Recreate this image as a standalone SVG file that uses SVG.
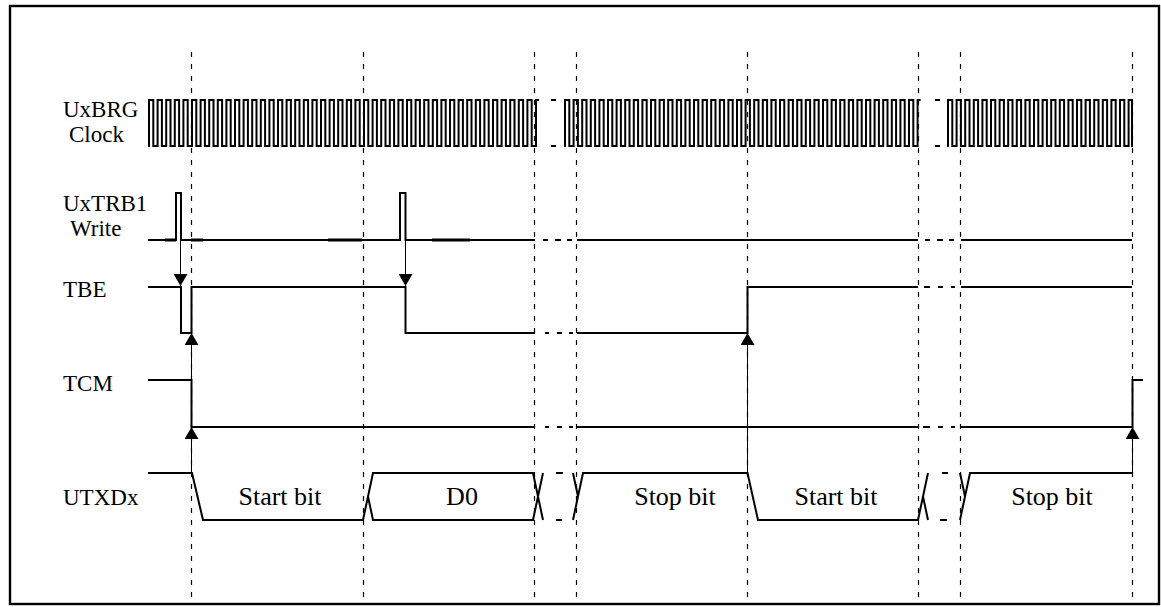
<svg xmlns="http://www.w3.org/2000/svg" width="1161" height="607" viewBox="0 0 1161 607">
<style>
.w{fill:none;stroke:#000;stroke-width:2;stroke-linejoin:miter;stroke-linecap:butt}
.ck{fill:none;stroke:#000;stroke-width:2;stroke-linejoin:miter;stroke-linecap:square}
.wt{fill:none;stroke:#000;stroke-width:3.2}
.t{fill:none;stroke:#000;stroke-width:1}
.d{fill:none;stroke:#000;stroke-width:1.2;stroke-dasharray:5 7}
.lbl{font-family:"Liberation Serif","Times New Roman",serif;font-size:23px;fill:#000}
.in{font-family:"Liberation Serif","Times New Roman",serif;font-size:26px;fill:#000;text-anchor:middle}
</style>
<defs>
<marker id="ah" viewBox="0 0 12 14" refX="12" refY="7" markerWidth="12" markerHeight="14" markerUnits="userSpaceOnUse" orient="auto"><path d="M0,0 L12,7 L0,14 z" fill="#000"/></marker>
<path id="c5" class="ck" d="M0,0v-46h4.3v46h4.3v-46h4.3v46h4.3v-46h4.3v46h4.3v-46h4.3v46h4.3v-46h4.3v46h4.3"/>
</defs>
<rect x="10" y="6" width="1149" height="598" fill="#fff" stroke="#000" stroke-width="2.4"/>
<g id="grid">
<path class="d" d="M191.5,52V600M363.5,52V600M534.5,52V600M576.5,52V600M747.5,52V600M918.5,52V600M960.5,52V600M1132.5,52V600"/>
</g>
<g id="clock">
<text class="lbl" x="63" y="117">UxBRG</text>
<text class="lbl" x="69" y="142">Clock</text>
<use href="#c5" x="149" y="146"/>
<use href="#c5" x="192" y="146"/>
<use href="#c5" x="235" y="146"/>
<use href="#c5" x="278" y="146"/>
<use href="#c5" x="321" y="146"/>
<use href="#c5" x="364" y="146"/>
<use href="#c5" x="407" y="146"/>
<use href="#c5" x="450" y="146"/>
<use href="#c5" x="493" y="146"/>
<path class="ck" d="M536,146v-46h2"/>
<use href="#c5" x="565" y="146"/>
<use href="#c5" x="608" y="146"/>
<use href="#c5" x="651" y="146"/>
<use href="#c5" x="694" y="146"/>
<use href="#c5" x="737" y="146"/>
<use href="#c5" x="780" y="146"/>
<use href="#c5" x="823" y="146"/>
<use href="#c5" x="866" y="146"/>
<path class="ck" d="M909,146v-46h4.3v46h4.3v-46h2"/>
<use href="#c5" x="948" y="146"/>
<use href="#c5" x="991" y="146"/>
<use href="#c5" x="1034" y="146"/>
<use href="#c5" x="1077" y="146"/>
<path class="ck" d="M1120,146v-46h4.3v46h4.3v-46h3.4v46"/>
<path class="w" d="M551,100h5M551,146h5M935,100h5M935,146h5"/>
</g>
<g id="write">
<text class="lbl" x="63" y="211">UxTRB1</text>
<text class="lbl" x="70" y="236">Write</text>
<path class="w" d="M148,240H176V193H181V240H400V193H405.5V240H535M577,240H918M961,240H1132"/>
<path class="wt" d="M165,240H176M191,240H203M328,240H362M432,240H470"/>
<path class="w" d="M543,240h5M555,240h6M567,240h5M925,240h5M937,240h6M949,240h5"/>
</g>
<g id="tbe">
<text class="lbl" x="63" y="297">TBE</text>
<path class="w" d="M148,287H181V333H191.5V287H405.5V333H535M577,333H747.5V287H918M961,287H1132"/>
<path class="w" d="M545,333h4M557,333h5M569,333h4M924,287h6M938,287h5M951,287h4"/>
</g>
<g id="tcm">
<text class="lbl" x="63" y="391">TCM</text>
<path class="w" d="M148,380H191.5V427H535M577,427H918M961,427H1132.5V380H1143"/>
<path class="w" d="M545,427h4M557,427h5M569,427h4M923,427h7M938,427h5M951,427h4"/>
</g>
<g id="utxd">
<text class="lbl" x="63" y="505">UTXDx</text>
<path class="w" d="M148,473H192L203,520H363L373,473H533L543,520M368,496.5L373,520H533L543,473"/>
<path class="w" d="M556,473h7M556,520h6"/>
<path class="w" d="M573,520L583,473H747.5L758,520H918L928,473M573,473L578,496.5M923,496.5L928,520"/>
<path class="w" d="M942,473h6M940,520h7"/>
<path class="w" d="M960,520L970,473H1132.5M960,473L965,496.5"/>
<text class="in" x="280" y="505">Start bit</text>
<text class="in" x="462" y="505">D0</text>
<text class="in" x="675" y="505">Stop bit</text>
<text class="in" x="836" y="505">Start bit</text>
<text class="in" x="1052" y="505">Stop bit</text>
</g>
<g id="connectors">
<path class="t" d="M180.5,240V286" marker-end="url(#ah)"/>
<path class="t" d="M405.5,240V286" marker-end="url(#ah)"/>
<path class="t" d="M191.5,473V427" marker-end="url(#ah)"/>
<path class="t" d="M191.5,427V333" marker-end="url(#ah)"/>
<path class="t" d="M747.5,473V333" marker-end="url(#ah)"/>
<path class="t" d="M1132.5,473V427" marker-end="url(#ah)"/>
</g>
</svg>
